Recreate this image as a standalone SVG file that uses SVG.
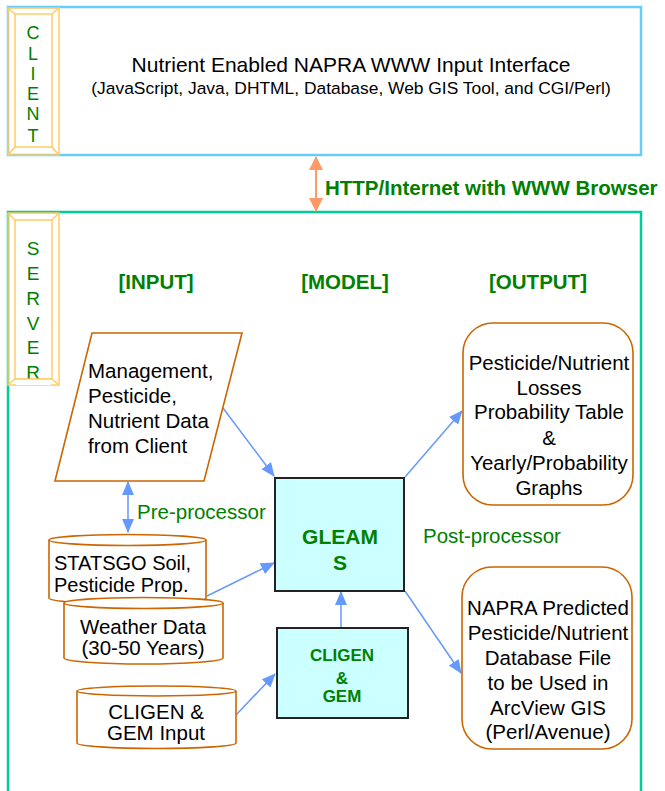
<svg xmlns="http://www.w3.org/2000/svg" width="665" height="791" viewBox="0 0 665 791">
<style>
.t{font-family:"Liberation Sans",Arial,sans-serif;fill:#000}
.g{font-family:"Liberation Sans",Arial,sans-serif;fill:#008000}
.b{font-weight:bold}
.frame{fill:none;stroke:#ffcc66;stroke-width:1.5}
.node{fill:#fff;stroke:#cc6600;stroke-width:1.6}
.model{fill:#ccffff;stroke:#222;stroke-width:2}
.conn{stroke:#6699ff;stroke-width:1.5;fill:none}
</style>
<defs>
<marker id="ahb" markerWidth="14" markerHeight="12" refX="13" refY="6" orient="auto-start-reverse" markerUnits="userSpaceOnUse" viewBox="0 0 14 12"><path d="M0,0 L14,6 L0,12 z" fill="#6699ff"/></marker>
<marker id="aho" markerWidth="14" markerHeight="14" refX="13" refY="7" orient="auto-start-reverse" markerUnits="userSpaceOnUse" viewBox="0 0 14 14"><path d="M0,0 L14,7 L0,14 z" fill="#ff9966"/></marker>
</defs>

<g id="client">
<rect x="8" y="7" width="633" height="148" fill="#fff" stroke="#66ccff" stroke-width="2.5"/>
<rect x="8" y="8" width="51" height="147" class="frame"/>
<rect x="15" y="14" width="37" height="133" class="frame"/>
<path d="M8,8 L15,14 M59,8 L52,14 M8,155 L15,147 M59,155 L52,147" class="frame"/>
<g class="g" font-size="18" text-anchor="middle">
<text x="33" y="39">C</text><text x="33" y="60">L</text><text x="33" y="80">I</text><text x="33" y="100">E</text><text x="33" y="120">N</text><text x="33" y="142">T</text>
</g>
<text class="t" x="351" y="72" font-size="21" text-anchor="middle">Nutrient Enabled NAPRA WWW Input Interface</text>
<text class="t" x="351" y="94" font-size="17.4" text-anchor="middle">(JavaScript, Java, DHTML, Database, Web GIS Tool, and CGI/Perl)</text>
</g>

<g id="server">
<rect x="8" y="212" width="633" height="600" fill="#fff" stroke="#00cc99" stroke-width="2.5"/>
<rect x="8" y="213" width="51" height="172" class="frame"/>
<rect x="15" y="220" width="37" height="159" class="frame"/>
<path d="M8,213 L15,220 M59,213 L52,220 M8,385 L15,379 M59,385 L52,379" class="frame"/>
<g class="g" font-size="19" text-anchor="middle">
<text x="33" y="255">S</text><text x="33" y="280">E</text><text x="33" y="305">R</text><text x="33" y="330">V</text><text x="33" y="354">E</text><text x="33" y="379">R</text>
</g>
<rect x="16" y="379" width="35" height="6" fill="#fff"/>
<path d="M15,379 L52,379" class="frame"/>
</g>

<g id="headers" class="g b" font-size="20.5" text-anchor="middle">
<text x="156" y="289">[INPUT]</text>
<text x="345" y="289">[MODEL]</text>
<text x="538" y="289">[OUTPUT]</text>
</g>

<g id="connectors">
<line x1="316" y1="157" x2="316" y2="211" stroke="#ff9966" stroke-width="2" marker-start="url(#aho)" marker-end="url(#aho)"/>
<line x1="128" y1="482" x2="128" y2="532" class="conn" marker-start="url(#ahb)" marker-end="url(#ahb)"/>
<line x1="223" y1="408" x2="274" y2="476" class="conn" marker-end="url(#ahb)"/>
<line x1="207" y1="596" x2="274" y2="563" class="conn" marker-end="url(#ahb)"/>
<line x1="235" y1="716" x2="275" y2="674" class="conn" marker-end="url(#ahb)"/>
<line x1="341" y1="627" x2="341" y2="592" class="conn" marker-end="url(#ahb)"/>
<line x1="405" y1="477" x2="462" y2="411" class="conn" marker-end="url(#ahb)"/>
<line x1="405" y1="591" x2="461" y2="673" class="conn" marker-end="url(#ahb)"/>
</g>

<g id="labels">
<text class="g b" x="325" y="195" font-size="20.5">HTTP/Internet with WWW Browser</text>
<text class="g" x="137" y="519" font-size="20.5">Pre-processor</text>
<text class="g" x="423" y="543" font-size="20.5">Post-processor</text>
</g>

<g id="mgmt">
<polygon points="92,333 242,333 204,481 55,481" class="node"/>
<g class="t" font-size="20.5">
<text x="88" y="378">Management,</text>
<text x="88" y="403">Pesticide,</text>
<text x="88" y="428">Nutrient Data</text>
<text x="88" y="453">from Client</text>
</g>
</g>

<g id="statsgo">
<path d="M49,540 L49,598 A78.5,6 0 0 0 206,598 L206,540" class="node"/>
<ellipse cx="127.5" cy="540" rx="78.5" ry="5.5" class="node"/>
<g class="t" font-size="20"><text x="54" y="570">STATSGO Soil,</text><text x="54" y="592">Pesticide Prop.</text></g>
</g>

<g id="weather">
<path d="M64,603 L64,658 A79.5,6 0 0 0 223,658 L223,603" class="node"/>
<ellipse cx="143.5" cy="603" rx="79.5" ry="5.5" class="node"/>
<g class="t" font-size="20.5" text-anchor="middle"><text x="143" y="634">Weather Data</text><text x="143" y="655">(30-50 Years)</text></g>
</g>

<g id="cligen-input">
<path d="M77,691 L77,743 A79.5,5.5 0 0 0 236,743 L236,691" class="node"/>
<ellipse cx="156.5" cy="691" rx="79.5" ry="5" class="node"/>
<g class="t" font-size="20.5" text-anchor="middle"><text x="156" y="719">CLIGEN &amp;</text><text x="156" y="740">GEM Input</text></g>
</g>

<g id="gleams">
<rect x="275" y="478" width="129" height="113" class="model"/>
<g class="g b" font-size="21" text-anchor="middle"><text x="340" y="544">GLEAM</text><text x="340" y="570">S</text></g>
</g>

<g id="cligen-gem">
<rect x="277" y="628" width="131" height="90" class="model"/>
<g class="g b" font-size="17" text-anchor="middle"><text x="342" y="661">CLIGEN</text><text x="342" y="684">&amp;</text><text x="342" y="702">GEM</text></g>
</g>

<g id="output1">
<rect x="463" y="323" width="170" height="182" rx="30" ry="30" class="node"/>
<g class="t" font-size="20.5" text-anchor="middle">
<text x="549" y="370">Pesticide/Nutrient</text>
<text x="549" y="395">Losses</text>
<text x="549" y="419">Probability Table</text>
<text x="549" y="445">&amp;</text>
<text x="549" y="470">Yearly/Probability</text>
<text x="549" y="495">Graphs</text>
</g>
</g>

<g id="output2">
<rect x="462" y="567" width="170" height="182" rx="30" ry="30" class="node"/>
<g class="t" font-size="20.5" text-anchor="middle">
<text x="548" y="615">NAPRA Predicted</text>
<text x="548" y="640">Pesticide/Nutrient</text>
<text x="548" y="665">Database File</text>
<text x="548" y="690">to be Used in</text>
<text x="548" y="715">ArcView GIS</text>
<text x="548" y="739">(Perl/Avenue)</text>
</g>
</g>
</svg>
